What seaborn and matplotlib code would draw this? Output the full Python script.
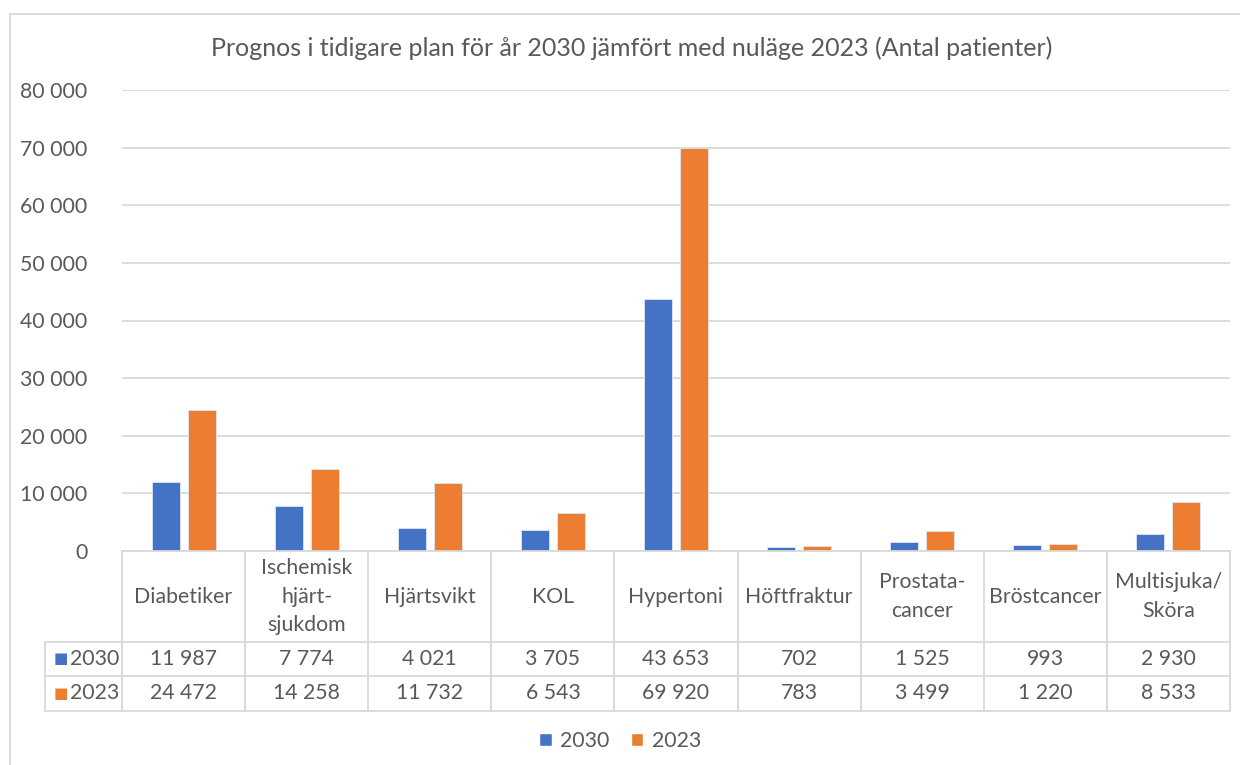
import pandas as pd
import matplotlib.pyplot as plt
import seaborn as sns
from matplotlib.patches import Patch, Rectangle

sns.set_style("white")
plt.rcParams['font.family'] = ['Lato', 'DejaVu Sans']

categories = ['Diabetiker', 'Ischemisk\nhjärt-\nsjukdom', 'Hjärtsvikt', 'KOL', 'Hypertoni',
              'Höftfraktur', 'Prostata-\ncancer', 'Bröstcancer', 'Multisjuka/\nSköra']
series = ['2030', '2023']
values_2030 = [11987, 7774, 4021, 3705, 43653, 702, 1525, 993, 2930]
values_2023 = [24472, 14258, 11732, 6543, 69920, 783, 3499, 1220, 8533]
yticks = [0, 10000, 20000, 30000, 40000, 50000, 60000, 70000, 80000]
title = 'Prognos i tidigare plan för år 2030 jämfört med nuläge 2023 (Antal patienter)'

colors = {'2030': '#4472C4', '2023': '#ED7D31'}
text_color = '#595959'
line_color = '#d9d9d9'
fs = 15.3

df = pd.DataFrame({
    'kategori': categories * 2,
    'antal': values_2030 + values_2023,
    'ar': ['2030'] * len(categories) + ['2023'] * len(categories),
})


def fmt(v):
    return f'{v:,}'.replace(',', ' ')


fig = plt.figure(figsize=(12.4, 7.65), dpi=100)
W, H = 1240, 765
ax = fig.add_axes([122 / W, 1 - 551 / H, (1230 - 122) / W, (551 - 90) / H])

sns.barplot(data=df, x='kategori', y='antal', hue='ar', hue_order=series,
            palette=colors, saturation=1, width=0.585, gap=0.22, edgecolor='#dce6f5',
            linewidth=0.6, legend=False, ax=ax)

ax.set_xlim(-0.5, len(categories) - 0.5)
ax.set_ylim(0, 80000)
ax.set_yticks(yticks)
ax.set_yticklabels([fmt(t) for t in yticks], color=text_color, fontsize=fs)
ax.tick_params(axis='y', length=0, pad=25)
ax.set_xticks([])
ax.set_xlabel('')
ax.set_ylabel('')
ax.grid(axis='y', color=line_color, linewidth=1.3)
ax.set_axisbelow(True)
for s in ['top', 'right', 'left']:
    ax.spines[s].set_visible(False)
ax.spines['bottom'].set_color(line_color)
ax.spines['bottom'].set_linewidth(1.3)

# title is centred on the whole chart area, not the plot area
fig.text(632 / W, 1 - 48 / H, title, ha='center', va='center',
         color=text_color, fontsize=18)

# data table under the axis
tr = ax.get_xaxis_transform()
n = len(categories)
y_head = -0.1974
y_r1 = -0.271
y_r2 = -0.347
x_left = -1.125
lk = dict(color=line_color, lw=1.3, transform=tr, clip_on=False)

for i in range(n + 1):
    ax.plot([i - 0.5, i - 0.5], [0, y_r2], **lk)
ax.plot([x_left, x_left], [y_head, y_r2], **lk)
for yy in [y_head, y_r1, y_r2]:
    ax.plot([x_left, n - 0.5], [yy, yy], **lk)

for i, cat in enumerate(categories):
    ax.text(i, y_head / 2, cat, transform=tr, ha='center', va='center',
            color=text_color, fontsize=fs, linespacing=1.55)
    ax.text(i, (y_head + y_r1) / 2, fmt(values_2030[i]), transform=tr,
            ha='center', va='center', color=text_color, fontsize=fs)
    ax.text(i, (y_r1 + y_r2) / 2, fmt(values_2023[i]), transform=tr,
            ha='center', va='center', color=text_color, fontsize=fs)

for name, yy in zip(series, [(y_head + y_r1) / 2, (y_r1 + y_r2) / 2]):
    ax.text(x_left + 0.07, yy, '■', transform=tr, ha='left', va='center',
            color=colors[name], fontsize=11, family=['DejaVu Sans'])
    ax.text(x_left + 0.20, yy, name, transform=tr, ha='left', va='center',
            color=text_color, fontsize=fs)

handles = [Patch(facecolor=colors[s], label=s) for s in series]
leg = fig.legend(handles=handles, loc='center', bbox_to_anchor=(0.5, 1 - 741 / H),
                 ncol=2, frameon=False, fontsize=fs, handlelength=0.6,
                 handleheight=0.6, handletextpad=0.4, columnspacing=1.0)
for t in leg.get_texts():
    t.set_color(text_color)

# chart frame
fig.patches.append(Rectangle((10 / W, -0.1), 1.2, 1.1 - 14 / H, transform=fig.transFigure,
                             fill=False, edgecolor=line_color, linewidth=1.3))

fig.savefig('out.png', dpi=100)
